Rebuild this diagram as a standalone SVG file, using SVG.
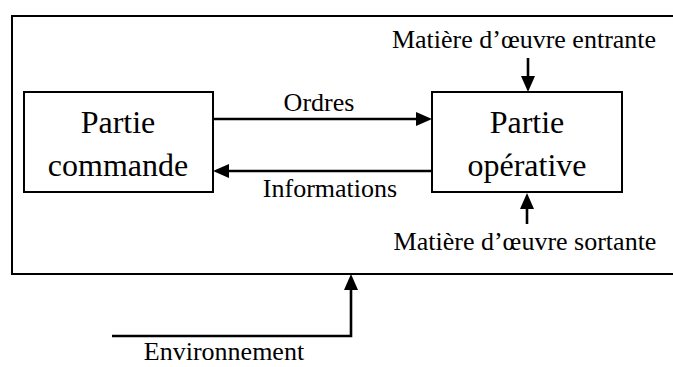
<svg xmlns="http://www.w3.org/2000/svg" width="673" height="367" viewBox="0 0 673 367">
  <style>
    .box { fill: #ffffff; stroke: #000000; stroke-width: 2; }
    .frame { fill: none; stroke: #000000; stroke-width: 2; }
    .wire { fill: none; stroke: #000000; stroke-width: 2.6; }
    text { font-family: 'Liberation Serif', 'Times New Roman', 'DejaVu Serif', serif; fill: #000000; text-anchor: middle; }
    .big { font-size: 32px; }
    .lbl { font-size: 26px; }
  </style>
  <defs>
    <marker id="head" markerUnits="userSpaceOnUse" markerWidth="18" markerHeight="16" refX="0" refY="7" orient="auto" overflow="visible">
      <path d="M0,0 L16,7 L0,14 z" fill="#000000"/>
    </marker>
  </defs>

  <rect width="673" height="367" fill="#ffffff"/>

  <!-- system boundary (runs past the right edge) -->
  <rect class="frame" x="12" y="16" width="690" height="258"/>

  <g id="partie-commande">
    <rect class="box" x="24" y="92" width="189" height="100"/>
    <text class="big" x="118" y="133">Partie</text>
    <text class="big" x="118" y="176">commande</text>
  </g>

  <g id="partie-operative">
    <rect class="box" x="432" y="92" width="190" height="100"/>
    <text class="big" x="527" y="133">Partie</text>
    <text class="big" x="527" y="176">opérative</text>
  </g>

  <g id="connectors">
    <line class="wire" x1="213" y1="119" x2="416" y2="119" marker-end="url(#head)"/>
    <line class="wire" x1="432" y1="171" x2="229" y2="171" marker-end="url(#head)"/>
    <line class="wire" x1="528" y1="58" x2="528" y2="76" marker-end="url(#head)"/>
    <line class="wire" x1="527" y1="224" x2="527" y2="209" marker-end="url(#head)"/>
    <path class="wire" d="M112,336 H351 V290" marker-end="url(#head)"/>
  </g>

  <g id="labels">
    <text class="lbl" x="319" y="111">Ordres</text>
    <text class="lbl" x="330" y="197">Informations</text>
    <text class="lbl" x="524" y="48">Matière d’œuvre entrante</text>
    <text class="lbl" x="525" y="250">Matière d’œuvre sortante</text>
    <text class="lbl" x="224" y="360">Environnement</text>
  </g>
</svg>
